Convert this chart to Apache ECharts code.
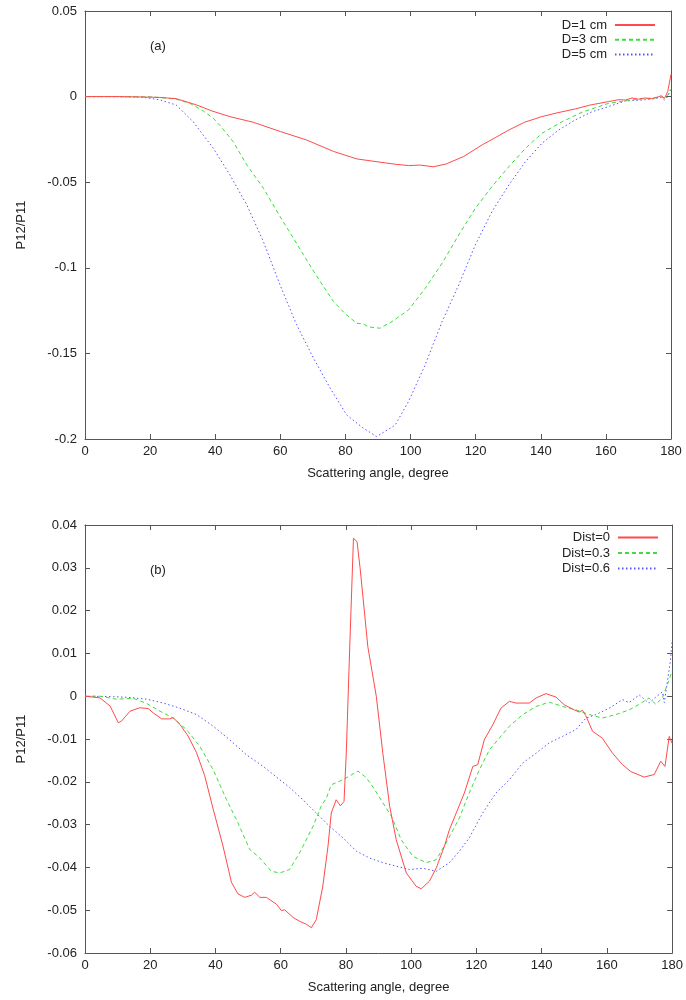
<!DOCTYPE html>
<html>
<head>
<meta charset="utf-8">
<script src="https://cdn.jsdelivr.net/npm/echarts@6/dist/echarts.min.js"></script>
<style>html,body{margin:0;padding:0;background:#fff}#c{width:686px;height:1000px}</style>
</head>
<body>
<div id="c"></div>
<script>
// ---------- Panel (a) ----------
const namesA = ['D=1 cm', 'D=3 cm', 'D=5 cm'];
const angA1 = [0,10,20,23,28,34.3,39,44.5,51.7,60,68,76.3,83.5,90.6,95.3,99.4,103,107,111,116.3,122,126,130.2,135,140.3,145,150.6,155,160.8,162,164,166,168,170,172,174,176,177,178,179,180];
const valA1 = [0,0,-0.0003,-0.0005,-0.0012,-0.0049,-0.0084,-0.0117,-0.015,-0.0204,-0.0253,-0.032,-0.0364,-0.0383,-0.0395,-0.0403,-0.0400,-0.041,-0.0393,-0.035,-0.0282,-0.024,-0.0195,-0.015,-0.0117,-0.0095,-0.0072,-0.005,-0.0029,-0.0025,-0.0018,-0.002,-0.0008,-0.0015,-0.0008,-0.0012,-0.0002,0.0005,-0.001,0.003,0.013];
const angA2 = [0,10,20,23,28,32.2,36,39.4,42,45.5,49.7,54.8,59.9,64,70.2,76.3,80,83.5,85.5,87,90.6,94.3,99.4,104.5,109.7,114.8,119.9,125,130.2,135.3,140.4,146.6,152.7,160.9,166,171,175,177,178,179,180];
const valA2 = [0,0,-0.0002,-0.0005,-0.0015,-0.0039,-0.008,-0.0126,-0.018,-0.0263,-0.0399,-0.0535,-0.070,-0.0827,-0.102,-0.1197,-0.127,-0.1324,-0.1328,-0.1345,-0.1353,-0.1314,-0.1246,-0.112,-0.0973,-0.0808,-0.0652,-0.0526,-0.0409,-0.0302,-0.0214,-0.0146,-0.0091,-0.0039,-0.0025,-0.0013,-0.0008,0,-0.001,0.001,0.004];
const angA3 = [0,10,18,23,28,33.2,39.4,44.5,49.7,54.8,59.9,65,70.2,75.3,80.4,85.5,89.6,95.3,99.4,104.5,109.7,114.8,119.9,125,130.2,135.3,140.4,145.5,150.6,155.8,160.9,166,171,175,177,178,179,180];
const valA3 = [0,0,-0.0004,-0.0019,-0.0049,-0.0146,-0.0302,-0.0457,-0.0633,-0.0847,-0.110,-0.1333,-0.1528,-0.1703,-0.186,-0.1937,-0.1986,-0.1918,-0.178,-0.1566,-0.1314,-0.110,-0.0866,-0.0672,-0.0516,-0.038,-0.0272,-0.0195,-0.0136,-0.0088,-0.0058,-0.0025,-0.002,-0.0012,-0.0005,-0.002,0,0.005];

// ---------- Panel (b) ----------
const namesB = ['Dist=0', 'Dist=0.3', 'Dist=0.6'];
const angB1 = [0,4.6,7.7,10.2,11.2,13.8,16.8,19.4,20.9,23.5,26,27,29.1,31.6,34.2,36.7,39.3,42.3,44.9,46.9,49,51,52,53.6,55.6,58.7,60.2,61.2,63.8,65.8,67.9,69.4,70.9,72.9,74.5,75.5,77,78.3,79.4,80.1,81.1,82.3,83.4,84.4,86.7,89.3,91.3,93.4,95.4,98.5,101.5,103.1,105.6,107.7,110.2,111.7,113.8,116.3,118.9,120.4,122.4,125,127.5,130.1,132.1,136.2,138.3,141.3,144.4,146.9,150,151.5,152.5,153.5,155.6,158.6,161.7,164.8,167.3,171.4,174.5,176.5,177.8,179.1,180];
const valB1 = [0,-0.0004,-0.0023,-0.0062,-0.0058,-0.0035,-0.0027,-0.0029,-0.0039,-0.0053,-0.0053,-0.005,-0.0066,-0.0093,-0.0132,-0.0186,-0.0264,-0.035,-0.0435,-0.0462,-0.047,-0.0465,-0.0458,-0.047,-0.047,-0.0486,-0.0501,-0.0499,-0.0517,-0.0526,-0.0533,-0.0541,-0.0522,-0.0444,-0.035,-0.0273,-0.0242,-0.0256,-0.0246,-0.0133,0.0101,0.0369,0.0361,0.0295,0.0116,0,-0.0133,-0.0257,-0.0335,-0.0413,-0.0444,-0.045,-0.0432,-0.0401,-0.035,-0.0312,-0.0273,-0.0226,-0.0164,-0.016,-0.0102,-0.0067,-0.0028,-0.0012,-0.0016,-0.0016,-0.0004,0.0006,-0.0002,-0.002,-0.0032,-0.0037,-0.0033,-0.0045,-0.0082,-0.0098,-0.0133,-0.016,-0.0176,-0.0189,-0.0183,-0.0152,-0.0164,-0.0094,-0.011];
const angB2 = [0,4.6,9.7,14.8,18.9,23,27,31.1,35.2,39.3,43.4,46.9,50.5,53.6,57.1,59.7,62.7,65.8,69.9,72.4,74,75.5,79.1,83.7,86.2,88.8,91.3,93.9,96.9,100.5,104.6,107.7,110.7,114.8,117.8,120.9,124,127,130.1,134.2,138.3,142.3,146.4,150.5,154.6,158.6,162.7,166.8,169.9,172.9,175,177,179.1,180];
const valB2 = [0,0,-0.0007,-0.0005,-0.0017,-0.0035,-0.0051,-0.0078,-0.0117,-0.0172,-0.0242,-0.0296,-0.0358,-0.0378,-0.0409,-0.0413,-0.0405,-0.0366,-0.0304,-0.0257,-0.0238,-0.0207,-0.0195,-0.0175,-0.019,-0.0218,-0.0249,-0.028,-0.0335,-0.0374,-0.0389,-0.0382,-0.0343,-0.0284,-0.0226,-0.0172,-0.0125,-0.0098,-0.007,-0.0043,-0.0024,-0.0014,-0.0024,-0.0032,-0.0043,-0.0051,-0.0043,-0.0032,-0.0019,-0.0004,-0.0019,-0.0004,0.0039,0.006];
const angB3 = [0,8.7,13.8,18.9,24,29.1,34.2,39.3,44.4,49.5,54.6,59.7,62.7,66.8,70.9,75,79.1,83.2,87.2,91.3,95.4,99.5,103.6,107.7,111.7,114.8,117.8,121.9,126,130.1,134.2,138.3,142.3,146.4,150.5,153.6,156.6,160.7,164.8,166.8,169.9,172.9,175,177,177.6,179.5,180];
const valB3 = [0,-0.0001,-0.0003,-0.0007,-0.0016,-0.0028,-0.0043,-0.007,-0.0102,-0.0137,-0.0164,-0.0195,-0.0213,-0.0242,-0.0273,-0.0304,-0.0331,-0.0362,-0.0378,-0.0389,-0.0397,-0.0405,-0.0402,-0.0409,-0.0389,-0.0362,-0.0331,-0.0273,-0.0226,-0.0195,-0.0156,-0.0133,-0.0109,-0.0094,-0.0078,-0.0051,-0.0043,-0.0028,-0.0008,-0.0015,0.0003,-0.0016,-0.0002,0.001,-0.0015,0.0085,0.013];

const xTitle = 'Scattering angle, degree';
const yTitle = 'P12/P11';
const panelLabels = ['(a)', '(b)'];

// ---------- styling ----------
const FONT = 'Liberation Sans, Arial, Helvetica, sans-serif';
const FS = 13;
const AXC = '#555';
const TXT = '#222';
const colors = ['#ff4a4a', '#3ddd3d', '#5555ff'];
const lineTypes = ['solid', [4, 3], [1.5, 2.5]];

function zip(a, b) { return a.map((x, i) => [x, b[i]]); }

const grids = [
  { left: 85, right: 15, top: 11, height: 428 },
  { left: 85, right: 13, top: 525, height: 428 }
];

function xAxes(gi) {
  const common = {
    type: 'value', gridIndex: gi, min: 0, max: 180, interval: 20,
    axisLine: { show: true, onZero: false, lineStyle: { color: AXC, width: 1 } },
    axisTick: { show: true, inside: true, length: 5, lineStyle: { color: AXC } },
    splitLine: { show: false }
  };
  return [
    Object.assign({}, common, {
      position: 'bottom',
      axisLabel: { color: TXT, fontSize: FS, fontFamily: FONT, margin: 6 },
      name: xTitle, nameLocation: 'middle', nameGap: 28,
      nameTextStyle: { color: TXT, fontSize: FS, fontFamily: FONT }
    }),
    Object.assign({}, common, { position: 'top', axisLabel: { show: false } })
  ];
}
function yAxes(gi, min, max, interval) {
  const common = {
    type: 'value', gridIndex: gi, min: min, max: max, interval: interval,
    axisLine: { show: true, onZero: false, lineStyle: { color: AXC, width: 1 } },
    axisTick: { show: true, inside: true, length: 5, lineStyle: { color: AXC } },
    splitLine: { show: false }
  };
  return [
    Object.assign({}, common, {
      position: 'left',
      axisLabel: { color: TXT, fontSize: FS, fontFamily: FONT, margin: 8,
        formatter: v => String(+v.toFixed(4)) },
      name: yTitle, nameLocation: 'middle', nameGap: 57, nameRotate: 90,
      nameTextStyle: { color: TXT, fontSize: FS, fontFamily: FONT }
    }),
    Object.assign({}, common, { position: 'right', axisLabel: { show: false } })
  ];
}

const seriesDefs = [
  [namesA[0], angA1, valA1, 0], [namesA[1], angA2, valA2, 1], [namesA[2], angA3, valA3, 2],
  [namesB[0], angB1, valB1, 0], [namesB[1], angB2, valB2, 1], [namesB[2], angB3, valB3, 2]
];
const series = seriesDefs.map((d, i) => {
  const panel = i < 3 ? 0 : 1;
  return {
    name: d[0], type: 'line', xAxisIndex: panel * 2, yAxisIndex: panel * 2,
    data: zip(d[1], d[2]), symbol: 'none', showSymbol: false, smooth: false,
    animation: false, z: 10 - d[3],
    lineStyle: { color: colors[d[3]], width: 1, type: lineTypes[d[3]] },
    itemStyle: { color: colors[d[3]] }
  };
});

function legend(names, right, top, gap) {
  return {
    data: names, orient: 'vertical', align: 'right', right: right, top: top,
    itemWidth: 40, itemHeight: 10, itemGap: gap, padding: 0,
    itemStyle: { opacity: 0 },
    textStyle: { color: TXT, fontSize: FS, fontFamily: FONT, lineHeight: 12, padding: [0, 3, 0, 0] },
    selectedMode: false
  };
}

const chart = echarts.init(document.getElementById('c'), null, { renderer: 'canvas' });
chart.setOption({
  backgroundColor: '#fff',
  animation: false,
  grid: grids,
  xAxis: xAxes(0).concat(xAxes(1)),
  yAxis: yAxes(0, -0.2, 0.05, 0.05).concat(yAxes(1, -0.06, 0.04, 0.01)),
  legend: [legend(namesA, 30, 18.5, 1.7), legend(namesB, 27, 531, 2.5)],
  graphic: [
    { type: 'text', left: 150, top: 40, style: { text: panelLabels[0], fill: TXT, font: FS + 'px ' + FONT } },
    { type: 'text', left: 150, top: 564, style: { text: panelLabels[1], fill: TXT, font: FS + 'px ' + FONT } }
  ],
  series: series
});
</script>
</body>
</html>
